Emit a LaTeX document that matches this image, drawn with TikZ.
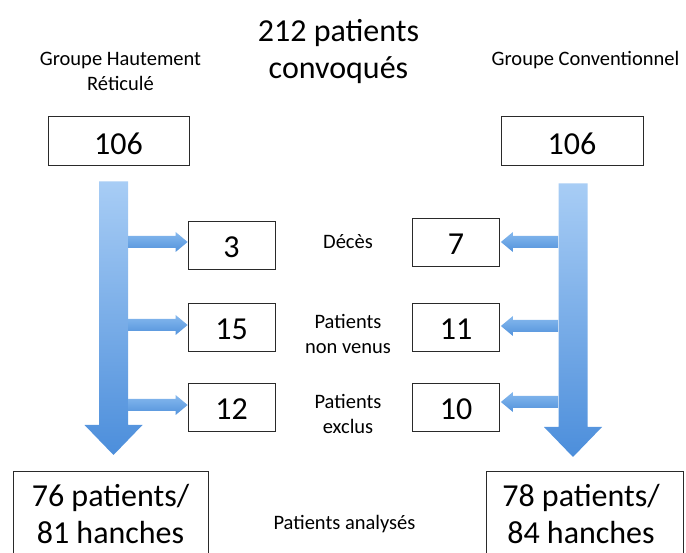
\documentclass[tikz,border=0pt]{standalone}
\usepackage{fontspec}
\setmainfont{Carlito}
\usetikzlibrary{calc}
\definecolor{lightblue}{HTML}{A8CDF5}
\definecolor{midblue}{HTML}{4C8EDB}
\definecolor{sblueT}{HTML}{86B9EE}
\definecolor{sblueB}{HTML}{5393DC}
\definecolor{boxgray}{HTML}{2A2A2A}
\pgfdeclarelayer{bg}
\pgfsetlayers{bg,main}
\tikzset{
  numbox/.style={draw=boxgray, line width=0.8pt, inner sep=0pt, minimum height=48pt, font=\fontsize{32}{37}\selectfont},
  smallbox/.style={numbox, minimum width=87pt, text height=25pt, text depth=0pt},
  topbox/.style={numbox, minimum width=141pt, minimum height=49pt, text height=28pt, text depth=0pt},
  bigtxt/.style={font=\fontsize{32}{37}\selectfont, align=center, inner sep=0pt},
  lbl/.style={font=\fontsize{20.5}{25}\selectfont, align=center, inner sep=0pt},
  bigshade/.style={top color=lightblue, bottom color=midblue},
  smallshade/.style={top color=sblueT, bottom color=sblueB},
}
\newcommand{\bigflow}[2]{%
  \shade[bigshade] ($(#1)+(-14.5,0)$) -- ($(#1)+(14.5,0)$) -- ($(#2)+(14.5,-30)$) -- ($(#2)+(29,-30)$) -- (#2) -- ($(#2)+(-29,-30)$) -- ($(#2)+(-14.5,-30)$) -- cycle;}
\newcommand{\sideflow}[3]{%
  \shade[smallshade] ($(#1)+(0,-6)$) -- ($(#2)+({-12*(#3)},-6)$) -- ($(#2)+({-12*(#3)},-10)$) -- (#2) -- ($(#2)+({-12*(#3)},10)$) -- ($(#2)+({-12*(#3)},6)$) -- ($(#1)+(0,6)$) -- cycle;}
\begin{document}
\begin{tikzpicture}[x=1pt,y=-1pt]
\useasboundingbox (0,0) rectangle (686,553);
\clip (0,0) rectangle (686,553);

\node[bigtxt] (title) at (338.5,51.7) {212 patients\\convoqués};
\node[lbl] (grpL) at (120.5,71) {Groupe Hautement\\Réticulé};
\node[lbl, anchor=base] (grpR) at (585.5,65.5) {Groupe Conventionnel};

\node[topbox] (nL) at (118.5,140.5) {106};
\node[topbox, minimum width=142pt] (nR) at (572,140.5) {106};

\node[smallbox] (d3) at (231.5,245) {3};
\node[smallbox] (d15) at (231.5,327) {15};
\node[smallbox] (d12) at (231.5,407) {12};
\node[smallbox] (d7) at (456,242.5) {7};
\node[smallbox] (d11) at (456,327) {11};
\node[smallbox] (d10) at (456,407) {10};

\node[lbl, anchor=base] (deces) at (348,249) {Décès};
\node[lbl] (nonvenus) at (348,333.5) {Patients\\non venus};
\node[lbl] (exclus) at (348,413.5) {Patients\\exclus};
\node[lbl, anchor=base] (analyses) at (344.5,529) {Patients analysés};

\node[numbox, minimum width=195pt, minimum height=130pt, anchor=north] (fL) at (110.5,471) {};
\node[bigtxt] (fLt) at (110.5,514) {76 patients/\\81 hanches};
\node[numbox, minimum width=197pt, minimum height=130pt, anchor=north] (fR) at (584.5,471) {};
\node[bigtxt] (fRt) at (581,514) {78 patients/\\84 hanches};

\coordinate (LAtop) at ($(nL.south)+(-5,16)$);
\coordinate (LAtip) at ($(fL.north)+(3,-16)$);
\coordinate (RAtop) at ($(nR.south)+(1,18)$);
\coordinate (RAtip) at ($(fR.north)+(-11.5,-14)$);
\coordinate (LAedge) at ($(LAtop)+(14.5,0)$);
\coordinate (RAedge) at ($(RAtop)+(-15,0)$);

\coordinate (t3) at ($(d3.west)+(0,-3)$);
\coordinate (t15) at ($(d15.west)+(0,-2)$);
\coordinate (t12) at ($(d12.west)+(0,-2)$);
\coordinate (t7) at ($(d7.east)+(1,-0.5)$);
\coordinate (t11) at ($(d11.east)+(1,-1)$);
\coordinate (t10) at ($(d10.east)+(1,-5)$);
\coordinate (s3) at (t3 -| LAedge);
\coordinate (s15) at (t15 -| LAedge);
\coordinate (s12) at (t12 -| LAedge);
\coordinate (s7) at (t7 -| RAedge);
\coordinate (s11) at (t11 -| RAedge);
\coordinate (s10) at (t10 -| RAedge);

\begin{pgfonlayer}{bg}
\bigflow{LAtop}{LAtip}
\bigflow{RAtop}{RAtip}
\sideflow{s3}{t3}{1}
\sideflow{s15}{t15}{1}
\sideflow{s12}{t12}{1}
\sideflow{s7}{t7}{-1}
\sideflow{s11}{t11}{-1}
\sideflow{s10}{t10}{-1}
\end{pgfonlayer}
\end{tikzpicture}
\end{document}
